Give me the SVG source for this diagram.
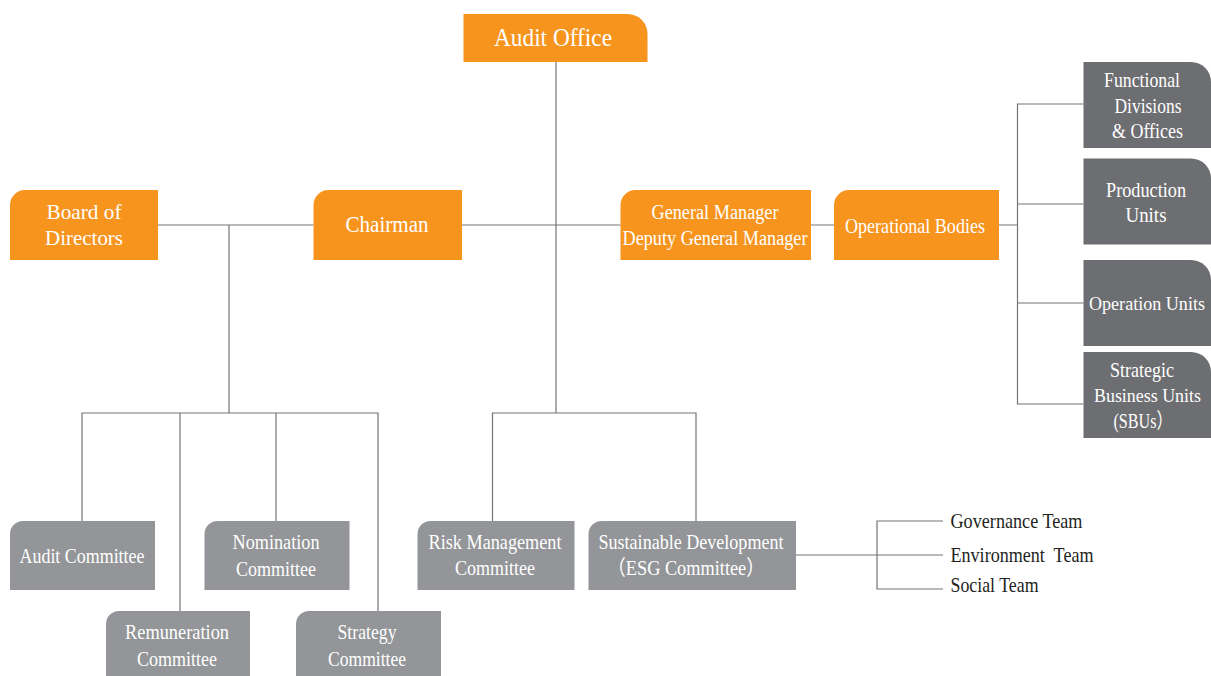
<svg xmlns="http://www.w3.org/2000/svg" width="1211" height="676" viewBox="0 0 1211 676">
<style>
.org{fill:#f7941e}
.dk{fill:#6d6e71}
.lt{fill:#939598}
.t{font-family:"Liberation Serif","Times New Roman","Noto Sans CJK SC",serif;fill:#ffffff;text-anchor:middle}
.s18{font-size:21px}
.s19{font-size:21px}
.nar{font-size:19px}
.s20{font-size:21.5px}
.gm{font-size:20.5px}
.s21{font-size:22px}
.s22{font-size:22.5px}
.s23{font-size:24.5px}
.team{font-family:"Liberation Serif","Times New Roman",serif;font-size:21px;fill:#231f20}
.ln{fill:none;stroke:#747474;stroke-width:1.2}
</style>
<rect width="1211" height="676" fill="#ffffff"/>
<g id="connectors">
<path class="ln" d="M556,62 V413"/>
<path class="ln" d="M158,225 H313.5 M462,225 H620.5 M811,225 H834 M999,225 H1017.5"/>
<path class="ln" d="M229,225 V413 M82,521 V413 H378 V611 M180,413 V611 M276,413 V521"/>
<path class="ln" d="M492.5,521 V413 H696 V521"/>
<path class="ln" d="M1083.5,104 H1017.5 V404 H1083.5 M1017.5,204 H1083.5 M1017.5,303 H1083.5"/>
<path class="ln" d="M796,555 H943 M943,521 H877 V589 H943"/>
</g>
<g id="audit-office">
<path class="org" d="M463.5,14 H627.5 A20,20 0 0 1 647.5,34 V62 H463.5 Z"/>
<text class="t s23" x="553" y="46" textLength="118" lengthAdjust="spacingAndGlyphs">Audit Office</text>
</g>
<g id="board">
<path class="org" d="M10,260 V205 A15,15 0 0 1 25,190 H158 V260 Z"/>
<text class="t s21" x="84" y="219" textLength="75" lengthAdjust="spacingAndGlyphs">Board of</text>
<text class="t s21" x="84" y="245" textLength="78" lengthAdjust="spacingAndGlyphs">Directors</text>
</g>
<g id="chairman">
<path class="org" d="M313.5,260 V205 A15,15 0 0 1 328.5,190 H462 V260 Z"/>
<text class="t s22" x="387" y="232" textLength="83" lengthAdjust="spacingAndGlyphs">Chairman</text>
</g>
<g id="general-manager">
<path class="org" d="M620.5,260 V205 A15,15 0 0 1 635.5,190 H811 V260 Z"/>
<text class="t gm" x="715" y="218.5" textLength="127" lengthAdjust="spacingAndGlyphs">General Manager</text>
<text class="t gm" x="715" y="245" textLength="185" lengthAdjust="spacingAndGlyphs">Deputy General Manager</text>
</g>
<g id="operational-bodies">
<path class="org" d="M834,260 V205 A15,15 0 0 1 849,190 H999 V260 Z"/>
<text class="t s20" x="915" y="232.5" textLength="140" lengthAdjust="spacingAndGlyphs">Operational Bodies</text>
</g>
<g id="functional">
<path class="dk" d="M1083.5,62 H1191 A20,20 0 0 1 1211,82 V148 H1083.5 Z"/>
<text class="t s19" x="1142" y="87" textLength="76" lengthAdjust="spacingAndGlyphs">Functional</text>
<text class="t s19" x="1148" y="112.5" textLength="67" lengthAdjust="spacingAndGlyphs">Divisions</text>
<text class="t s19" x="1147.5" y="138" textLength="71" lengthAdjust="spacingAndGlyphs">&amp; Offices</text>
</g>
<g id="production">
<path class="dk" d="M1083.5,158.5 H1191 A20,20 0 0 1 1211,178.5 V244.5 H1083.5 Z"/>
<text class="t s19" x="1146" y="197" textLength="80" lengthAdjust="spacingAndGlyphs">Production</text>
<text class="t s19" x="1146" y="222" textLength="41" lengthAdjust="spacingAndGlyphs">Units</text>
</g>
<g id="operation-units">
<path class="dk" d="M1083.5,260 H1191 A20,20 0 0 1 1211,280 V346 H1083.5 Z"/>
<text class="t nar" x="1147" y="310" textLength="116" lengthAdjust="spacingAndGlyphs">Operation Units</text>
</g>
<g id="sbus">
<path class="dk" d="M1083.5,352 H1191 A20,20 0 0 1 1211,372 V438 H1083.5 Z"/>
<text class="t s19" x="1142" y="377" textLength="64" lengthAdjust="spacingAndGlyphs">Strategic</text>
<text class="t nar" x="1147.5" y="402" textLength="107" lengthAdjust="spacingAndGlyphs">Business Units</text>
<text class="t s19" x="1143" y="428" textLength="59" lengthAdjust="spacingAndGlyphs">(SBUs）</text>
</g>
<g id="audit-committee">
<path class="lt" d="M10,590 V534 A13,13 0 0 1 23,521 H155 V590 Z"/>
<text class="t s18" x="82" y="563" textLength="125" lengthAdjust="spacingAndGlyphs">Audit Committee</text>
</g>
<g id="nomination">
<path class="lt" d="M204.5,590 V534 A13,13 0 0 1 217.5,521 H349.5 V590 Z"/>
<text class="t s18" x="276" y="549" textLength="87" lengthAdjust="spacingAndGlyphs">Nomination</text>
<text class="t s18" x="276" y="575.5" textLength="80" lengthAdjust="spacingAndGlyphs">Committee</text>
</g>
<g id="remuneration">
<path class="lt" d="M106,676 V624 A13,13 0 0 1 119,611 H250 V676 Z"/>
<text class="t s18" x="177" y="639" textLength="104" lengthAdjust="spacingAndGlyphs">Remuneration</text>
<text class="t s18" x="177" y="665.5" textLength="80" lengthAdjust="spacingAndGlyphs">Committee</text>
</g>
<g id="strategy">
<path class="lt" d="M296,676 V624 A13,13 0 0 1 309,611 H441 V676 Z"/>
<text class="t s18" x="367" y="639" textLength="59" lengthAdjust="spacingAndGlyphs">Strategy</text>
<text class="t s18" x="367" y="665.5" textLength="78" lengthAdjust="spacingAndGlyphs">Committee</text>
</g>
<g id="risk">
<path class="lt" d="M417.5,590 V534 A13,13 0 0 1 430.5,521 H574.5 V590 Z"/>
<text class="t s18" x="495" y="548.5" textLength="133" lengthAdjust="spacingAndGlyphs">Risk Management</text>
<text class="t s18" x="495" y="575" textLength="80" lengthAdjust="spacingAndGlyphs">Committee</text>
</g>
<g id="sustainable">
<path class="lt" d="M588.5,590 V534 A13,13 0 0 1 601.5,521 H796 V590 Z"/>
<text class="t s18" x="691" y="548.5" textLength="185" lengthAdjust="spacingAndGlyphs">Sustainable Development</text>
<text class="t s18" x="686" y="575" textLength="157" lengthAdjust="spacingAndGlyphs">（ESG Committee）</text>
</g>
<g id="governance-team">
<text class="team" x="950.5" y="527.5" textLength="132" lengthAdjust="spacingAndGlyphs">Governance Team</text>
</g>
<g id="environment-team">
<text class="team" x="950.5" y="561.5" textLength="143" lengthAdjust="spacingAndGlyphs" xml:space="preserve">Environment  Team</text>
</g>
<g id="social-team">
<text class="team" x="950.5" y="591.5" textLength="88" lengthAdjust="spacingAndGlyphs">Social Team</text>
</g>
</svg>
